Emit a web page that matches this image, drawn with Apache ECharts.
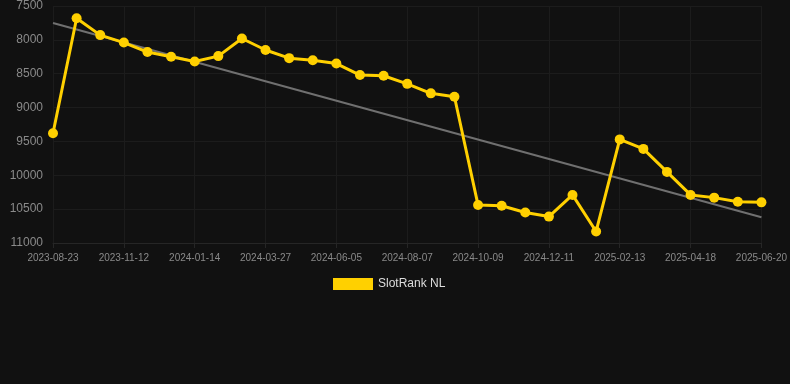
<!DOCTYPE html>
<html><head><meta charset="utf-8">
<script src="https://cdn.jsdelivr.net/npm/echarts@6/dist/echarts.min.js"></script>
<style>html,body{margin:0;padding:0;background:#111111;}#c{width:790px;height:384px;}</style>
</head><body><div id="c"></div>
<script>
const dates = ['2023-08-23','2023-09-19','2023-10-16','2023-11-12','2023-12-03','2023-12-24','2024-01-14','2024-02-07','2024-03-02','2024-03-27','2024-04-19','2024-05-12','2024-06-05','2024-06-26','2024-07-17','2024-08-07','2024-08-28','2024-09-18','2024-10-09','2024-10-30','2024-11-20','2024-12-11','2025-01-01','2025-01-22','2025-02-13','2025-03-06','2025-03-27','2025-04-18','2025-05-09','2025-05-30','2025-06-20'];
const rankNL = [9380,7680,7930,8040,8180,8250,8320,8240,7980,8150,8270,8300,8350,8520,8530,8650,8790,8840,10440,10450,10550,10610,10290,10830,9470,9610,9950,10290,10330,10390,10400];
const trendEnds = [7750, 10620];
const seriesName = 'SlotRank NL';

const chart = echarts.init(document.getElementById('c'));
chart.setOption({
  backgroundColor: '#111111',
  animation: false,
  grid: {left: 53, right: 28, top: 6, bottom: 141},
  legend: {
    data: [seriesName], top: 273, left: 328,
    itemWidth: 40, itemHeight: 12, icon: 'rect', itemGap: 10,
    textStyle: {color: '#dddddd', fontSize: 12, fontFamily: 'Arial, Liberation Sans, sans-serif'}
  },
  xAxis: {
    type: 'category', data: dates, boundaryGap: false,
    axisLine: {lineStyle: {color: '#262626'}},
    axisTick: {show: true, interval: 2, lineStyle: {color: '#262626'}},
    axisLabel: {interval: 2, color: '#8a8a8a', fontSize: 10, margin: 10, fontFamily: 'Arial, Liberation Sans, sans-serif'},
    splitLine: {show: true, interval: 2, lineStyle: {color: '#1c1c1c'}}
  },
  yAxis: {
    type: 'value', inverse: true, min: 7500, max: 11000, interval: 500,
    axisLine: {show: false}, axisTick: {show: false},
    axisLabel: {color: '#8a8a8a', fontSize: 12, margin: 10, fontFamily: 'Arial, Liberation Sans, sans-serif',
      formatter: v => String(v)},
    splitLine: {lineStyle: {color: '#1c1c1c'}}
  },
  series: [
    {
      name: 'trend', type: 'line',
      data: [[dates[0], trendEnds[0]], [dates[dates.length - 1], trendEnds[1]]],
      symbol: 'none', lineStyle: {color: '#707070', width: 2}, z: 1, silent: true
    },
    {
      name: seriesName, type: 'line', data: rankNL,
      symbol: 'circle', symbolSize: 10,
      itemStyle: {color: '#FFD000'},
      lineStyle: {color: '#FFD000', width: 3}, z: 2
    }
  ]
});
</script></body></html>
